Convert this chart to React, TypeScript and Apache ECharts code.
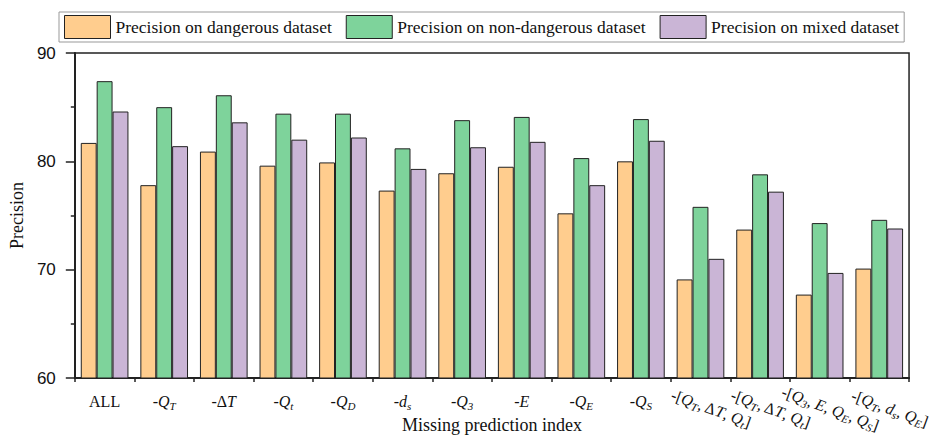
import React, { useEffect, useRef } from "react";
import * as echarts from "echarts";

const categories = [
  "ALL", "-QT", "-ΔT", "-Qt", "-QD", "-ds", "-Q3", "-E", "-QE", "-QS",
  "-[QT, ΔT, Qt] (a)", "-[QT, ΔT, Qt] (b)", "-[Q3, E, QE, QS]", "-[QT, ds, QE]",
];

const categoryLabels = [
  "{n|ALL}",
  "{n|-}{i|Q}{s|T}",
  "{n|-Δ}{i|T}",
  "{n|-}{i|Q}{s|t}",
  "{n|-}{i|Q}{s|D}",
  "{n|-}{i|d}{s|s}",
  "{n|-}{i|Q}{s|3}",
  "{n|-}{i|E}",
  "{n|-}{i|Q}{s|E}",
  "{n|-}{i|Q}{s|S}",
  "{n|-[}{i|Q}{s|T}{n|, Δ}{i|T}{n|, }{i|Q}{s|t}{n|]}",
  "{n|-[}{i|Q}{s|T}{n|, Δ}{i|T}{n|, }{i|Q}{s|t}{n|]}",
  "{n|-[}{i|Q}{s|3}{n|, }{i|E}{n|, }{i|Q}{s|E}{n|, }{i|Q}{s|S}{n|]}",
  "{n|-[}{i|Q}{s|T}{n|, }{i|d}{s|s}{n|, }{i|Q}{s|E}{n|]}",
];

const seriesNames = [
  "Precision on dangerous dataset",
  "Precision on non-dangerous dataset",
  "Precision on mixed dataset",
];

const dangerous = [81.7, 77.8, 80.9, 79.6, 79.9, 77.3, 78.9, 79.5, 75.2, 80.0, 69.1, 73.7, 67.7, 70.1];
const nonDangerous = [87.4, 85.0, 86.1, 84.4, 84.4, 81.2, 83.8, 84.1, 80.3, 83.9, 75.8, 78.8, 74.3, 74.6];
const mixed = [84.6, 81.4, 83.6, 82.0, 82.2, 79.3, 81.3, 81.8, 77.8, 81.9, 71.0, 77.2, 69.7, 73.8];

const colors = ["#FFCD8E", "#7ED39B", "#CAB5D6"];

const yTicks = { min: 60, max: 90, interval: 10 };

const serif = "'Liberation Serif', 'Times New Roman', serif";
const sans = "'Liberation Sans', Arial, sans-serif";

const rich = {
  n: { fontFamily: serif, fontSize: 16, color: "#111", lineHeight: 20, verticalAlign: "middle" },
  i: { fontFamily: serif, fontSize: 16, fontStyle: "italic", color: "#111", lineHeight: 20, verticalAlign: "middle" },
  s: { fontFamily: serif, fontSize: 11, fontStyle: "italic", color: "#111", lineHeight: 8, verticalAlign: "bottom" },
};

export default function App() {
  const ref = useRef<HTMLDivElement>(null);
  useEffect(() => {
    if (!ref.current) return;
    const chart = echarts.init(ref.current, null, { renderer: "svg" });
    const indexOf = (v: string) => categories.indexOf(v);
    chart.setOption({
      animation: false,
      backgroundColor: "#fff",
      grid: {
        left: 72, right: 22, top: 53, bottom: 58,
        show: true, borderColor: "#222", borderWidth: 1.5, backgroundColor: "transparent",
      },
      legend: {
        left: 59, top: 12,
        padding: [3, 5, 3, 5],
        itemWidth: 46, itemHeight: 23, itemGap: 14,
        borderColor: "#999", borderWidth: 1, backgroundColor: "#fff",
        icon: "rect",
        itemStyle: { borderColor: "#222", borderWidth: 1 },
        textStyle: { fontFamily: serif, fontSize: 17.5, color: "#111", padding: [0, 0, 0, 0] },
        data: seriesNames,
      },
      xAxis: [
        {
          type: "category",
          data: categories,
          position: "bottom",
          axisLine: { lineStyle: { color: "#222", width: 2 } },
          axisTick: { alignWithLabel: true, length: 9, lineStyle: { color: "#222", width: 1.5 } },
          axisLabel: {
            interval: 0,
            margin: 13,
            formatter: (v: string) => { const k = indexOf(v); return k < 10 ? categoryLabels[k] : ""; },
            rich,
          },
          name: "Missing prediction index",
          nameLocation: "middle",
          nameGap: 38,
          nameTextStyle: { fontFamily: serif, fontSize: 18, color: "#111" },
        },
        {
          type: "category",
          data: categories,
          position: "bottom",
          axisLine: { show: false },
          axisTick: { show: true, length: 4, lineStyle: { color: "#222", width: 1.5 } },
          axisLabel: {
            interval: 0,
            rotate: -20,
            align: "center",
            verticalAlign: "top",
            margin: 16,
            padding: [0, 0, 0, 30],
            hideOverlap: false,
            formatter: (v: string) => { const k = indexOf(v); return k >= 10 ? categoryLabels[k] : ""; },
            rich,
          },
        },
      ],
      yAxis: {
        type: "value",
        min: yTicks.min, max: yTicks.max, interval: yTicks.interval,
        axisLine: { show: true, lineStyle: { color: "#222", width: 2 } },
        axisTick: { show: true, length: 9, lineStyle: { color: "#222", width: 1.5 } },
        minorTick: { show: true, splitNumber: 2, length: 4, lineStyle: { color: "#222", width: 1.5 } },
        splitLine: { show: false },
        axisLabel: { fontFamily: sans, fontSize: 17, color: "#111", margin: 19 },
        name: "Precision",
        nameLocation: "middle",
        nameGap: 46,
        nameTextStyle: { fontFamily: serif, fontSize: 18, color: "#111" },
      },
      series: [dangerous, nonDangerous, mixed].map((d, i) => ({
        type: "bar",
        name: seriesNames[i],
        data: d,
        barGap: "0%",
        barCategoryGap: "20%",
        itemStyle: { color: colors[i], borderColor: "#222", borderWidth: 1 },
      })),
    });
    return () => chart.dispose();
  }, []);
  return <div ref={ref} style={{ width: 933, height: 439, position: "absolute", left: 0, top: 0 }} />;
}
